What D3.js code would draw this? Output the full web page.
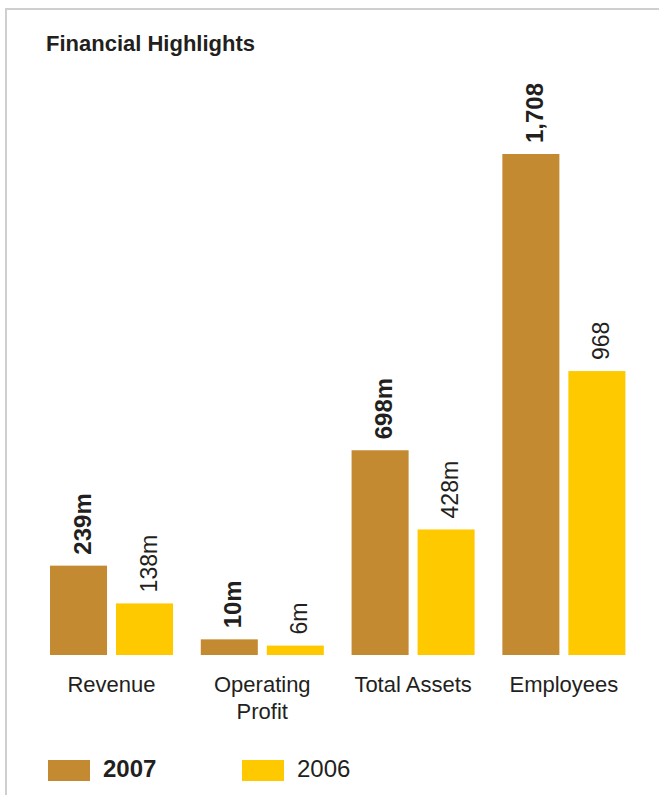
<!DOCTYPE html>
<html>
<head>
<meta charset="utf-8">
<script src="https://cdn.jsdelivr.net/npm/d3@7/dist/d3.min.js"></script>
<style>
  html, body { margin: 0; padding: 0; background: #fff; }
  svg { display: block; }
  text { font-family: "Liberation Sans", Arial, sans-serif; fill: #231f20; }
</style>
</head>
<body>
<svg id="chart" width="659" height="795"></svg>
<script>
// Financial highlights: 2007 vs 2006
const categories = ["Revenue", "Operating\nProfit", "Total Assets", "Employees"];
const series = ["2007", "2006"];
const values2007 = [239, 10, 698, 1708];
const values2006 = [138, 6, 428, 968];
const labels2007 = ["239m", "10m", "698m", "1,708"];
const labels2006 = ["138m", "6m", "428m", "968"];
// each group is drawn on its own value scale; this is the value reaching the top of the plot
const groupScaleMax = [1340, 320, 1708, 1708];

const colors = { "2007": "#c48a32", "2006": "#ffc900" };

const svg = d3.select("#chart");
const W = 659, H = 795;

// frame: top and left rules
svg.append("line").attr("x1", 6).attr("x2", W).attr("y1", 9).attr("y2", 9)
  .attr("stroke", "#cfcfcf").attr("stroke-width", 2);
svg.append("line").attr("x1", 6).attr("x2", 6).attr("y1", 8).attr("y2", H)
  .attr("stroke", "#cfcfcf").attr("stroke-width", 2);

svg.append("text").attr("x", 46).attr("y", 51)
  .attr("font-size", 22).attr("font-weight", "bold")
  .text("Financial Highlights");

const baseline = 655, plotTop = 154;

const x0 = d3.scaleBand().domain(categories).range([50, 625.4]).paddingInner(0.184).paddingOuter(0);
const x1 = d3.scaleBand().domain(series).range([0, x0.bandwidth()]).paddingInner(0.136).paddingOuter(0);

const rows = categories.map((c, i) => ({
  cat: c,
  y: d3.scaleLinear().domain([0, groupScaleMax[i]]).range([baseline, plotTop]),
  bars: [
    { s: "2007", v: values2007[i], label: labels2007[i] },
    { s: "2006", v: values2006[i], label: labels2006[i] }
  ]
}));

const groups = svg.selectAll("g.group").data(rows).join("g")
  .attr("class", "group")
  .attr("transform", d => `translate(${x0(d.cat)},0)`);

groups.each(function(row) {
  const g = d3.select(this);
  g.selectAll("rect").data(row.bars).join("rect")
    .attr("x", d => x1(d.s))
    .attr("width", x1.bandwidth())
    .attr("y", d => row.y(d.v))
    .attr("height", d => baseline - row.y(d.v))
    .attr("fill", d => colors[d.s]);

  g.selectAll("text.val").data(row.bars).join("text")
    .attr("class", "val")
    .attr("transform", d => `translate(${x1(d.s) + x1.bandwidth() / 2},${row.y(d.v)}) rotate(-90)`)
    .attr("x", 11)
    .attr("y", 12)
    .attr("font-size", d => d.s === "2007" ? 24 : 23)
    .attr("font-weight", d => d.s === "2007" ? "bold" : "normal")
    .text(d => d.label);

  const lines = row.cat.split("\n");
  g.append("text")
    .attr("x", x0.bandwidth() / 2)
    .attr("y", 692)
    .attr("text-anchor", "middle")
    .attr("font-size", 22)
    .selectAll("tspan").data(lines).join("tspan")
    .attr("x", x0.bandwidth() / 2)
    .attr("dy", (d, i) => i === 0 ? 0 : 27)
    .text(d => d);
});

// legend
const legend = svg.selectAll("g.legend").data(series).join("g")
  .attr("class", "legend")
  .attr("transform", (d, i) => `translate(${48 + i * 194},760)`);
legend.append("rect").attr("width", 42).attr("height", 21).attr("fill", d => colors[d]);
legend.append("text").attr("x", 55).attr("y", 17)
  .attr("font-size", 24)
  .attr("font-weight", d => d === "2007" ? "bold" : "normal")
  .text(d => d);
</script>
</body>
</html>
